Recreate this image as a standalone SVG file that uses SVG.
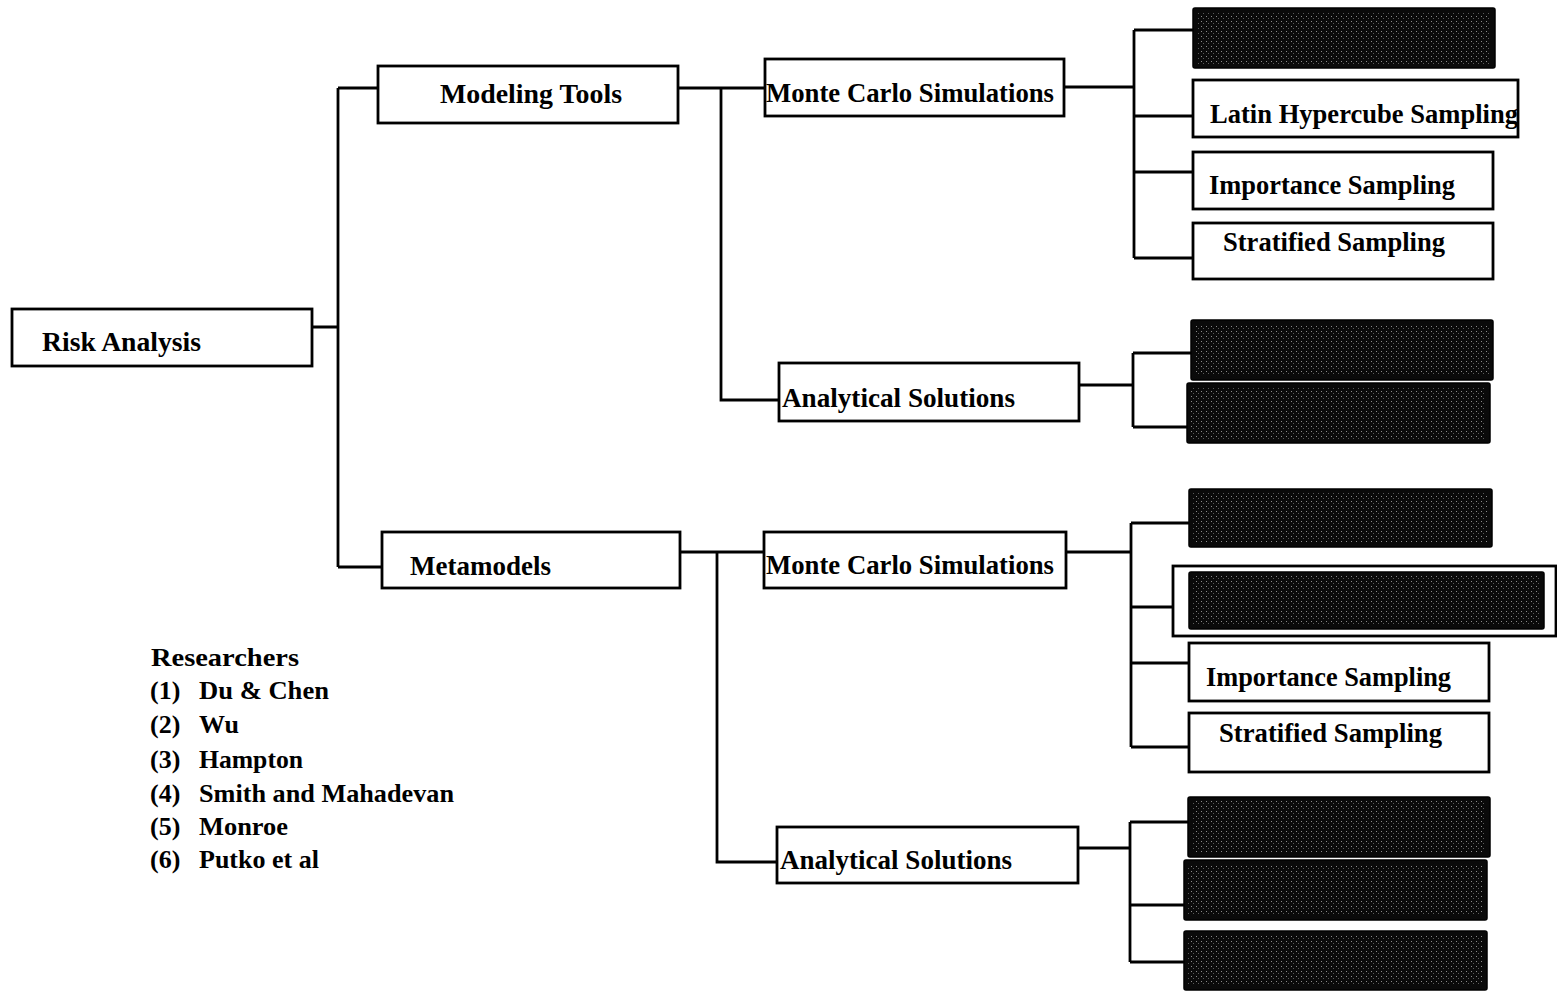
<svg xmlns="http://www.w3.org/2000/svg" width="1557" height="998" viewBox="0 0 1557 998">
<style>
.box{fill:#fff;stroke:#000;stroke-width:2.8}
.dark{fill:#0a0a0a;stroke:#000;stroke-width:1.5}
.dots{fill:url(#stip);stroke:none}
.lbl{font-family:"Liberation Serif","Times New Roman",serif;font-weight:bold;font-size:28px;fill:#000}
.leg{font-family:"Liberation Serif","Times New Roman",serif;font-weight:bold;font-size:26px;fill:#000}
.con{fill:none;stroke:#000;stroke-width:2.8}
</style>
<defs>
<pattern id="stip" width="5" height="5" patternUnits="userSpaceOnUse">
<rect x="1" y="1" width="1" height="1" fill="#8a8a8a"/>
<rect x="3" y="3" width="1" height="1" fill="#5a5a5a"/>
</pattern>
</defs>
<rect width="1557" height="998" fill="#fff"/>

<g id="connectors">
<path class="con" d="M312,327 H338 M338,88 V567 M338,88 H378 M338,567 H382"/>
<path class="con" d="M678,88 H765 M721,88 V400 H781"/>
<path class="con" d="M1064,87 H1134 M1134,30 V258 M1134,30 H1193 M1134,116 H1193 M1134,172 H1193 M1134,258 H1193"/>
<path class="con" d="M1078,385 H1133 M1133,353 V427 M1133,353 H1191 M1133,427 H1187"/>
<path class="con" d="M680,552 H765 M717,552 V862 H779"/>
<path class="con" d="M1066,552 H1131 M1131,523 V747 M1131,523 H1189 M1131,607 H1189 M1131,663 H1189 M1131,747 H1189"/>
<path class="con" d="M1078,848 H1130 M1130,822 V962 M1130,822 H1188 M1130,905 H1184 M1130,962 H1184"/>
</g>

<g id="risk-analysis">
<rect class="box" x="12" y="309" width="300" height="57"/>
<text class="lbl" x="42" y="351" textLength="159" lengthAdjust="spacingAndGlyphs">Risk Analysis</text>
</g>

<g id="modeling-tools">
<rect class="box" x="378" y="66" width="300" height="57"/>
<text class="lbl" x="440" y="103" textLength="182" lengthAdjust="spacingAndGlyphs">Modeling Tools</text>
</g>

<g id="mc-top">
<rect class="box" x="765" y="59" width="299" height="57"/>
<text class="lbl" x="766" y="102" textLength="288" lengthAdjust="spacingAndGlyphs">Monte Carlo Simulations</text>
</g>

<g id="dark-top-1">
<rect class="dark" x="1193" y="8" width="302" height="60" rx="2"/>
<rect class="dots" x="1197" y="12" width="294" height="52"/>
</g>

<g id="lhs-top">
<rect class="box" x="1193" y="80" width="325" height="57"/>
<text class="lbl" x="1210" y="123" textLength="308" lengthAdjust="spacingAndGlyphs">Latin Hypercube Sampling</text>
</g>

<g id="is-top">
<rect class="box" x="1193" y="152" width="300" height="57"/>
<text class="lbl" x="1209" y="194" textLength="246" lengthAdjust="spacingAndGlyphs">Importance Sampling</text>
</g>

<g id="ss-top">
<rect class="box" x="1193" y="223" width="300" height="56"/>
<text class="lbl" x="1223" y="251" textLength="222" lengthAdjust="spacingAndGlyphs">Stratified Sampling</text>
</g>

<g id="as-top">
<rect class="box" x="779" y="363" width="300" height="58"/>
<text class="lbl" x="782" y="407" textLength="233" lengthAdjust="spacingAndGlyphs">Analytical Solutions</text>
</g>

<g id="dark-as-top-1">
<rect class="dark" x="1191" y="320" width="302" height="60" rx="2"/>
<rect class="dots" x="1195" y="324" width="294" height="52"/>
</g>

<g id="dark-as-top-2">
<rect class="dark" x="1187" y="383" width="303" height="60" rx="2"/>
<rect class="dots" x="1191" y="387" width="295" height="52"/>
</g>

<g id="metamodels">
<rect class="box" x="382" y="532" width="298" height="56"/>
<text class="lbl" x="410" y="575" textLength="141" lengthAdjust="spacingAndGlyphs">Metamodels</text>
</g>

<g id="mc-bottom">
<rect class="box" x="764" y="532" width="302" height="56"/>
<text class="lbl" x="766" y="574" textLength="288" lengthAdjust="spacingAndGlyphs">Monte Carlo Simulations</text>
</g>

<g id="dark-bottom-1">
<rect class="dark" x="1189" y="489" width="303" height="58" rx="2"/>
<rect class="dots" x="1193" y="493" width="295" height="50"/>
</g>

<g id="lhs-bottom">
<rect class="box" x="1173" y="566" width="383" height="70"/>
<rect class="dark" x="1189" y="572" width="355" height="57" rx="2"/>
<rect class="dots" x="1192" y="575" width="349" height="51"/>
</g>

<g id="is-bottom">
<rect class="box" x="1189" y="643" width="300" height="58"/>
<text class="lbl" x="1206" y="686" textLength="245" lengthAdjust="spacingAndGlyphs">Importance Sampling</text>
</g>

<g id="ss-bottom">
<rect class="box" x="1189" y="713" width="300" height="59"/>
<text class="lbl" x="1219" y="742" textLength="223" lengthAdjust="spacingAndGlyphs">Stratified Sampling</text>
</g>

<g id="as-bottom">
<rect class="box" x="777" y="827" width="301" height="56"/>
<text class="lbl" x="780" y="869" textLength="232" lengthAdjust="spacingAndGlyphs">Analytical Solutions</text>
</g>

<g id="dark-as-bottom-1">
<rect class="dark" x="1188" y="797" width="302" height="60" rx="2"/>
<rect class="dots" x="1192" y="801" width="294" height="52"/>
</g>

<g id="dark-as-bottom-2">
<rect class="dark" x="1184" y="860" width="303" height="60" rx="2"/>
<rect class="dots" x="1188" y="864" width="295" height="52"/>
</g>

<g id="dark-as-bottom-3">
<rect class="dark" x="1184" y="931" width="303" height="59" rx="2"/>
<rect class="dots" x="1188" y="935" width="295" height="51"/>
</g>

<g id="legend">
<text class="leg" x="151" y="666" textLength="148" lengthAdjust="spacingAndGlyphs" style="font-weight:900">Researchers</text>
<text class="leg" x="150" y="699">(1)</text><text class="leg" x="199" y="699" textLength="130" lengthAdjust="spacingAndGlyphs">Du &amp; Chen</text>
<text class="leg" x="150" y="733">(2)</text><text class="leg" x="199" y="733" textLength="40" lengthAdjust="spacingAndGlyphs">Wu</text>
<text class="leg" x="150" y="768">(3)</text><text class="leg" x="199" y="768" textLength="104" lengthAdjust="spacingAndGlyphs">Hampton</text>
<text class="leg" x="150" y="802">(4)</text><text class="leg" x="199" y="802" textLength="255" lengthAdjust="spacingAndGlyphs">Smith and Mahadevan</text>
<text class="leg" x="150" y="835">(5)</text><text class="leg" x="199" y="835" textLength="89" lengthAdjust="spacingAndGlyphs">Monroe</text>
<text class="leg" x="150" y="868">(6)</text><text class="leg" x="199" y="868" textLength="120" lengthAdjust="spacingAndGlyphs">Putko et al</text>
</g>
</svg>
